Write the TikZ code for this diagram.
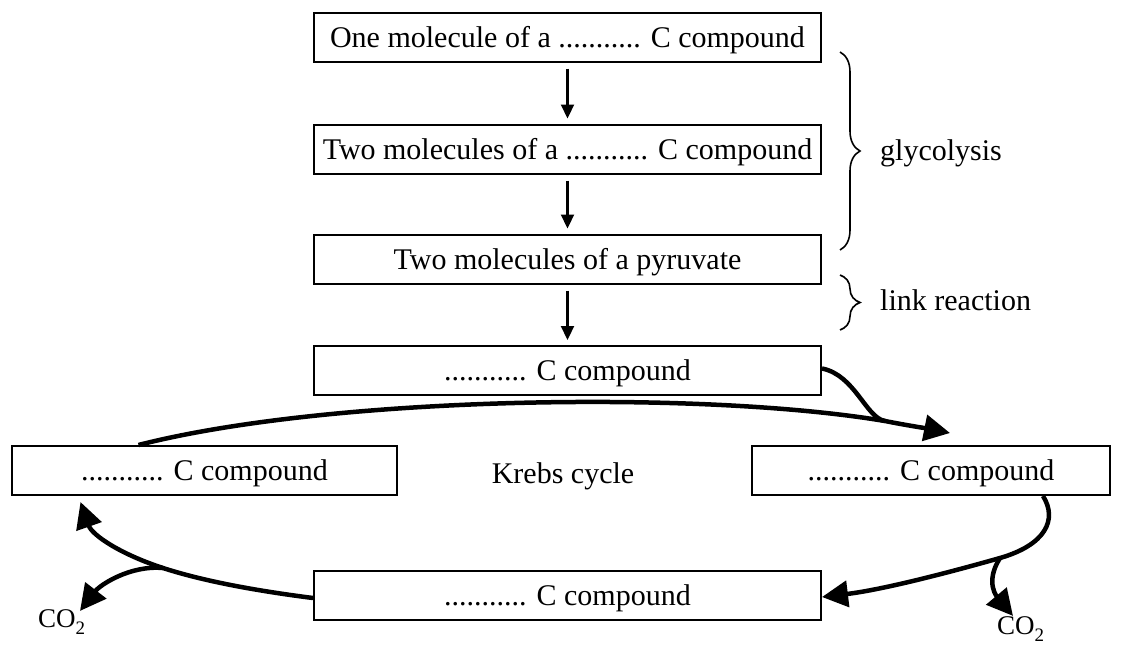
\documentclass[tikz,border=0pt]{standalone}
\usepackage{fontspec}
\setmainfont{Liberation Serif}
\usetikzlibrary{arrows.meta,decorations.pathreplacing}

\newcommand{\cotwo}{CO\raisebox{-7pt}{\fontsize{19}{20}\selectfont 2}}

\begin{document}
\begin{tikzpicture}[x=1pt, y=-1pt,
  every node/.style={font=\fontsize{30}{36}\selectfont, inner sep=0pt},
  stage/.style={draw, line width=2pt, minimum width=507pt, minimum height=49pt, text height=24pt, text depth=4pt},
  down arrow/.style={line width=2.2pt, -{Triangle[length=14pt,width=13pt]}, shorten <=6pt, shorten >=5pt},
  cycle arrow/.style={line width=4.5pt, -{Triangle[length=26pt,width=26pt]}},
  cycle line/.style={line width=4.5pt},
  bracket/.style={line width=1.6pt, decorate, decoration={brace, amplitude=20pt}},
  gas/.style={font=\fontsize{27}{30}\selectfont, anchor=base west}]
  \useasboundingbox (0,0) rectangle (1124,646);

  \node[stage] (one) at (567.5,37) {One molecule of a ........... C compound};
  \node[stage] (two) at (567.5,149) {Two molecules of a ........... C compound};
  \node[stage] (pyr) at (567.5,259) {Two molecules of a pyruvate};
  \node[stage] (acc) at (567.5,370.5) {........... C compound};
  \node[stage, minimum width=385pt] (left) at (204.5,470.5) {........... C compound};
  \node[stage, minimum width=358pt] (right) at (931,470.5) {........... C compound};
  \node[stage] (bottom) at (567.5,595) {........... C compound};
  \node (krebs) at (563,476) {Krebs cycle};
  \node[anchor=west] (glyc) at (880,153) {glycolysis};
  \node[anchor=west] (link) at (880,300) {link reaction};
  \node[gas] (co2l) at (38,627) {\cotwo};
  \node[gas] (co2r) at (997,634) {\cotwo};

  \draw[down arrow] (one) -- (two);
  \draw[down arrow] (two) -- (pyr);
  \draw[down arrow] (pyr) -- (acc);

  \draw[bracket] (840,52) -- (840,250);
  \draw[bracket] (840,275) -- (840,330);

  \coordinate (jtop) at (885,421);
  \coordinate (jright) at (1000,558);
  \coordinate (jleft) at (163,568);

  \draw[cycle arrow] ([xshift=-66pt]left.north) .. controls (330,396) and (700,390) .. (jtop)
    .. controls (905,425) and (930,429) .. ([xshift=19pt,yshift=12pt]right.north);
  \draw[cycle line] ([yshift=2pt]acc.east) .. controls (855,375) and (866,418) .. (jtop);
  \draw[cycle arrow] ([xshift=112pt]right.south) .. controls (1058,520) and (1045,545) .. (jright)
    .. controls (940,575) and (880,590) .. ([yshift=-2pt]bottom.east);
  \draw[cycle arrow] (jright) .. controls (984,583) and (998,598) .. ([xshift=16pt,yshift=0pt]co2r.north west);
  \draw[cycle arrow] ([yshift=-3pt]bottom.west) .. controls (250,590) and (200,580) .. (jleft)
    .. controls (120,554) and (92,535) .. ([xshift=-124pt,yshift=-6pt]left.south);
  \draw[cycle arrow] (jleft) .. controls (130,565) and (100,585) .. ([xshift=42pt,yshift=-2pt]co2l.north west);
\end{tikzpicture}
\end{document}
